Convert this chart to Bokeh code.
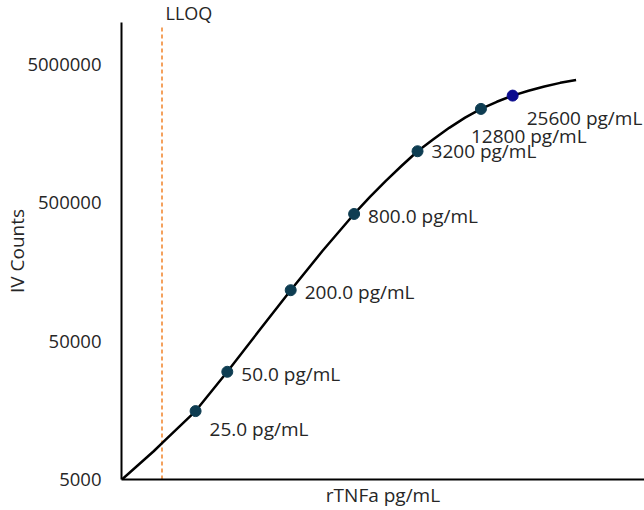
from bokeh.plotting import figure
from bokeh.models import ColumnDataSource, FixedTicker, Range1d
from bokeh.core.properties import value
from bokeh.embed import file_html
from bokeh.resources import INLINE

# ---- data ----
std_conc = [25, 50, 200, 800, 3200, 12800, 25600]          # pg/mL
std_counts = [15600, 30000, 116500, 414000, 1175000, 2376000, 2965000]
std_labels = ["25.0 pg/mL", "50.0 pg/mL", "200.0 pg/mL", "800.0 pg/mL",
              "3200 pg/mL", "12800 pg/mL", "25600 pg/mL"]

# fitted standard curve at regular concentrations
curve_conc = [5, 10, 12.5, 25, 50, 100, 200, 400, 800, 1131, 1600, 2263,
              3200, 4525, 6400, 9051, 12800, 18102, 25600, 36204, 51200,
              72408, 102400]
curve_counts = [5000, 8000, 9440, 15600, 30000, 59300, 116500, 223500,
                414000, 549500, 718500, 922700, 1175000, 1433000, 1734000,
                2055000, 2376000, 2675000, 2965000, 3216000, 3453000,
                3665000, 3845000]

lloq_conc = 12
lloq_label = "LLOQ"
y_ticks = [5000, 50000, 500000, 5000000]
y_tick_labels = ["5000", "50000", "500000", "5000000"]

# ---- styling (kept separate from data) ----
FONT = "Open Sans"
TXT = "#262626"
dot_colors = ["#0e3d52"] * 6 + ["#0c0c8e"]
label_dx = [14, 14, 14, 14, 14, -10, 14]
label_dy = [18, 2, 2, 2, 0, 27, 22]

p = figure(width=644, height=510, x_axis_type="log", y_axis_type="log",
           x_range=Range1d(4.95, 457000), y_range=Range1d(5000, 1.0e7),
           output_backend="svg", toolbar_location=None,
           min_border_left=121, min_border_top=22, min_border_right=0,
           min_border_bottom=29)
p.grid.visible = False
p.outline_line_color = None
p.background_fill_color = "white"
p.border_fill_color = "white"

# LLOQ caption above the plot area
p.title.text = lloq_label
p.title.align = "left"
p.title.offset = 44
p.title.standoff = -5
p.title.text_font = FONT
p.title.text_font_size = "18px"
p.title.text_font_style = "normal"
p.title.text_color = TXT

# axes
for ax in (p.xaxis[0], p.yaxis[0]):
    ax.axis_line_color = "black"
    ax.axis_line_width = 2
    ax.major_tick_line_color = None
    ax.minor_tick_line_color = None
    ax.major_tick_out = 0
    ax.major_tick_in = 0
    ax.axis_label_text_font = FONT
    ax.axis_label_text_font_size = "19px"
    ax.axis_label_text_font_style = "normal"
    ax.axis_label_text_color = TXT
    ax.major_label_text_font = FONT
    ax.major_label_text_font_size = "18.5px"
    ax.major_label_text_color = TXT

p.xaxis.ticker = FixedTicker(ticks=[])
p.xaxis.axis_label = "rTNFa pg/mL"
p.xaxis.axis_label_standoff = 2

p.yaxis.ticker = FixedTicker(ticks=y_ticks)
p.yaxis.major_label_overrides = {t: s for t, s in zip(y_ticks, y_tick_labels)}
p.yaxis.major_label_standoff = 20
p.yaxis.axis_label = "IV Counts"
p.yaxis.axis_label_standoff = -6

# LLOQ line
p.segment(x0=[lloq_conc], y0=[5000], x1=[lloq_conc], y1=[9.4e6],
          line_color="#f4a15d", line_width=2, line_dash="4 3")

# fitted curve
p.line(curve_conc, curve_counts, line_color="black", line_width=2.5,
       line_join="round")

# standards
src = ColumnDataSource(dict(x=std_conc, y=std_counts, lab=std_labels,
                            c=dot_colors, dx=label_dx, dy=label_dy))
p.scatter("x", "y", source=src, size=11, fill_color="c", line_color="c")
p.text("x", "y", text="lab", source=src, x_offset="dx", y_offset="dy",
       text_font=value(FONT), text_font_size="19px", text_color=TXT,
       text_align="left", text_baseline="middle")

open("out.html", "w").write(file_html(p, INLINE))
